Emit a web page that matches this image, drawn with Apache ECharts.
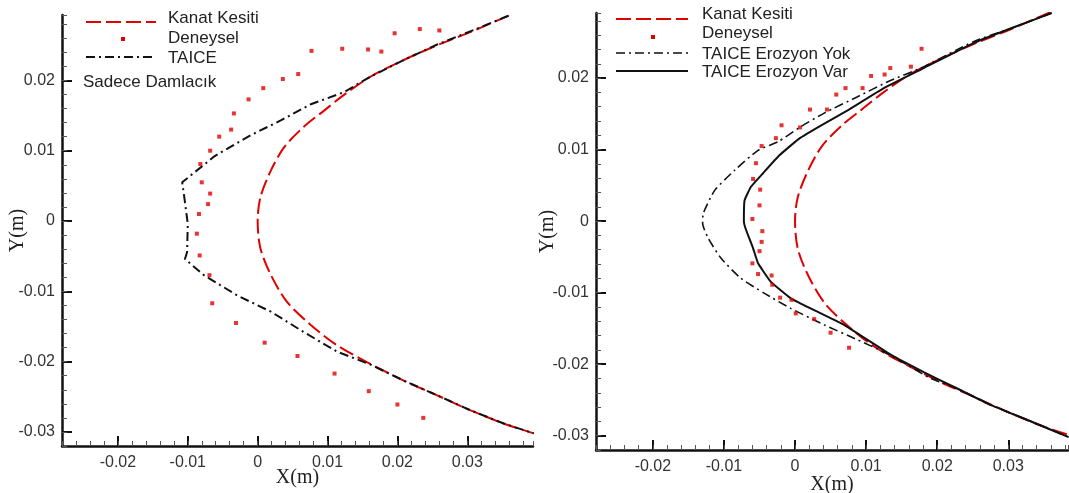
<html>
<head>
<meta charset="UTF-8">
<title>Kanat Kesiti - Buzlanma</title>
<script type="text/javascript" src="https://cdn.jsdelivr.net/npm/echarts@6/dist/echarts.min.js"></script>
<style>
  html, body { margin: 0; padding: 0; background: #fff; }
  #main { width: 1069px; height: 493px; }
</style>
</head>
<body>
<div id="main"></div>
<script type="text/javascript">
// tick labels (m)
var xTicks = [-0.02, -0.01, 0, 0.01, 0.02, 0.03];
var yTicks = [-0.03, -0.02, -0.01, 0, 0.01, 0.02];

// kanat kesiti (airfoil), same for both panels: [x, y]
var kanatKesiti = [
  [0.0359, 0.0292], [0.0305, 0.0269], [0.0257, 0.0250], [0.0209, 0.0229], [0.0161, 0.0205],
  [0.0123, 0.0179], [0.0095, 0.0157], [0.0066, 0.0134], [0.0038, 0.0105], [0.0019, 0.0072],
  [0.0004, 0.0034], [0.0000, 0.0000], [0.0004, -0.0039], [0.0019, -0.0077], [0.0042, -0.0115],
  [0.0076, -0.0148], [0.0114, -0.0177], [0.0157, -0.0201], [0.0209, -0.0227], [0.0257, -0.0248],
  [0.0304, -0.0269], [0.0352, -0.0288], [0.0395, -0.0302]
];

// sol panel - sadece damlacik
var deneyselSol = [
  [0.0196, 0.0267], [0.0232, 0.0273], [0.0260, 0.0271], [0.0077, 0.0242], [0.0121, 0.0245],
  [0.0158, 0.0244], [0.0177, 0.0241], [0.0058, 0.0209], [0.0036, 0.0202], [0.0008, 0.0189],
  [-0.0013, 0.0173], [-0.0034, 0.0153], [-0.0038, 0.0130], [-0.0055, 0.0120], [-0.0068, 0.0100],
  [-0.0082, 0.0081], [-0.0080, 0.0055], [-0.0068, 0.0039], [-0.0071, 0.0024], [-0.0084, 0.0010],
  [-0.0087, -0.0018], [-0.0083, -0.0049], [-0.0069, -0.0077], [-0.0065, -0.0117], [-0.0031, -0.0145],
  [0.0010, -0.0173], [0.0057, -0.0192], [0.0110, -0.0217], [0.0159, -0.0242], [0.0200, -0.0261],
  [0.0237, -0.0280]
];
var taiceSol = [
  [0.0359, 0.0292], [0.0305, 0.0270], [0.0257, 0.0251], [0.0209, 0.0229], [0.0161, 0.0205],
  [0.0123, 0.0183], [0.0076, 0.0166], [0.0033, 0.0143], [-0.0010, 0.0122], [-0.0062, 0.0092],
  [-0.0108, 0.0055], [-0.0105, 0.0034], [-0.0100, -0.0004], [-0.0101, -0.0044], [-0.0104, -0.0054],
  [-0.0077, -0.0077], [-0.0029, -0.0106], [0.0019, -0.0129], [0.0066, -0.0158], [0.0114, -0.0186],
  [0.0161, -0.0204], [0.0209, -0.0227], [0.0257, -0.0248], [0.0304, -0.0269], [0.0352, -0.0288],
  [0.0395, -0.0302]
];

// sag panel - erozyon
var deneyselSag = [
  [0.0178, 0.0241], [0.0163, 0.0216], [0.0134, 0.0214], [0.0126, 0.0205], [0.0107, 0.0203],
  [0.0095, 0.0186], [0.0071, 0.0186], [0.0058, 0.0177], [0.0045, 0.0156], [0.0021, 0.0156],
  [0.0007, 0.0131], [-0.0019, 0.0134], [-0.0027, 0.0116], [-0.0047, 0.0105], [-0.0055, 0.0081],
  [-0.0059, 0.0059], [-0.0049, 0.0044], [-0.0050, 0.0022], [-0.0060, 0.0003], [-0.0046, -0.0014],
  [-0.0047, -0.0029], [-0.0050, -0.0042], [-0.0060, -0.0059], [-0.0052, -0.0074], [-0.0033, -0.0076],
  [-0.0032, -0.0089], [-0.0021, -0.0107], [-0.0005, -0.0110], [0.0001, -0.0129], [0.0027, -0.0137],
  [0.0050, -0.0156], [0.0076, -0.0177]
];
var erozyonYok = [
  [0.0361, 0.0291], [0.0305, 0.0270], [0.0251, 0.0251], [0.0177, 0.0214], [0.0135, 0.0197],
  [0.0088, 0.0174], [0.0041, 0.0151], [0.0008, 0.0132], [-0.0024, 0.0111], [-0.0052, 0.0099],
  [-0.0085, 0.0071], [-0.0113, 0.0043], [-0.0129, 0.0011], [-0.0130, -0.0003], [-0.0122, -0.0024],
  [-0.0104, -0.0052], [-0.0076, -0.0080], [-0.0043, -0.0101], [-0.0006, -0.0122], [0.0041, -0.0145],
  [0.0088, -0.0166], [0.0125, -0.0183], [0.0158, -0.0201], [0.0191, -0.0220], [0.0228, -0.0234],
  [0.0275, -0.0257], [0.0322, -0.0276], [0.0385, -0.0302]
];
var erozyonVar = [
  [0.0361, 0.0291], [0.0305, 0.0270], [0.0251, 0.0249], [0.0181, 0.0214], [0.0125, 0.0186],
  [0.0074, 0.0155], [0.0032, 0.0131], [0.0004, 0.0114], [-0.0022, 0.0092], [-0.0045, 0.0067],
  [-0.0062, 0.0048], [-0.0071, 0.0029], [-0.0072, 0.0000], [-0.0069, -0.0012], [-0.0059, -0.0038],
  [-0.0052, -0.0059], [-0.0034, -0.0085], [-0.0006, -0.0108], [0.0032, -0.0127], [0.0069, -0.0145],
  [0.0102, -0.0166], [0.0135, -0.0187], [0.0181, -0.0211], [0.0228, -0.0234], [0.0275, -0.0257],
  [0.0322, -0.0276], [0.0385, -0.0302]
];

var RED = '#e00000';
var TXT = '#222';
var dashDot = [9, 4, 2, 4];

// ana eksen: cizgi, buyuk tikler, etiketler
function mainAxis(dim, grid, min, max, ticks, name, gap) {
  return {
    type: 'value', gridIndex: grid, min: min, max: max,
    position: dim === 'x' ? 'bottom' : 'left',
    name: name, nameLocation: 'middle', nameGap: gap, nameMoveOverlap: false,
    nameTextStyle: { fontFamily: 'Liberation Serif', fontSize: 20, color: TXT },
    axisLine: { show: true, onZero: false, lineStyle: { color: '#111', width: 2.5 } },
    axisTick: { show: true, inside: true, length: 10, customValues: ticks, lineStyle: { color: '#111', width: 2 } },
    axisLabel: { customValues: ticks, margin: dim === 'x' ? 9 : 7, fontFamily: 'Liberation Sans', fontSize: 16, color: '#333' },
    splitLine: { show: false }
  };
}
// ara tikler (0.002)
function minorAxis(dim, grid, min, max) {
  return {
    type: 'value', gridIndex: grid, min: min, max: max, interval: 0.002,
    position: dim === 'x' ? 'bottom' : 'left',
    axisLine: { show: false, onZero: false },
    axisTick: { show: true, inside: true, length: 5, lineStyle: { color: '#555', width: 1 } },
    axisLabel: { show: false },
    splitLine: { show: false }
  };
}

function lineSeries(name, data, xi, color, width, type, smooth) {
  return {
    name: name, type: 'line', xAxisIndex: xi, yAxisIndex: xi, data: data,
    symbol: 'none', smooth: smooth, z: 3,
    lineStyle: { color: color, width: width, type: type }
  };
}
function dotSeries(name, data, xi) {
  return {
    name: name, type: 'scatter', xAxisIndex: xi, yAxisIndex: xi, data: data,
    symbol: 'rect', symbolSize: 4, itemStyle: { color: RED }, z: 4
  };
}

// legend ornekleri
function legLine(x1, x2, y, color, width, dash) {
  return { type: 'line', shape: { x1: x1, y1: y, x2: x2, y2: y }, style: { stroke: color, lineWidth: width, lineDash: dash } };
}
function legText(x, y, t) {
  return { type: 'text', x: x, y: y, style: { text: t, fill: TXT, font: '17px "Liberation Sans"', verticalAlign: 'middle' } };
}

var myChart = echarts.init(document.getElementById('main'));
var option = {
  animation: false,
  backgroundColor: '#fff',
  grid: [
    { left: 62, top: 15, width: 471, height: 431, containLabel: false, outerBoundsMode: 'none' },
    { left: 596, top: 13, width: 472, height: 437, containLabel: false, outerBoundsMode: 'none' }
  ],
  xAxis: [
    mainAxis('x', 0, -0.028, 0.0394, xTicks, 'X(m)', 22),
    minorAxis('x', 0, -0.028, 0.0394),
    mainAxis('x', 1, -0.028, 0.0384, xTicks, 'X(m)', 25),
    minorAxis('x', 1, -0.028, 0.0384)
  ],
  yAxis: [
    mainAxis('y', 0, -0.032, 0.0293, yTicks, 'Y(m)', 34),
    minorAxis('y', 0, -0.032, 0.0293),
    mainAxis('y', 1, -0.032, 0.0291, yTicks, 'Y(m)', 38),
    minorAxis('y', 1, -0.032, 0.0291)
  ],
  series: [
    lineSeries('Kanat Kesiti', kanatKesiti, 0, RED, 2, [15, 5], 0.3),
    dotSeries('Deneysel', deneyselSol, 0),
    lineSeries('TAICE', taiceSol, 0, '#111', 2, dashDot, false),
    lineSeries('Kanat Kesiti', kanatKesiti, 2, RED, 2, [15, 5], 0.3),
    dotSeries('Deneysel', deneyselSag, 2),
    lineSeries('TAICE Erozyon Yok', erozyonYok, 2, '#111', 1.6, dashDot, 0.2),
    lineSeries('TAICE Erozyon Var', erozyonVar, 2, '#111', 2, 'solid', 0.1)
  ],
  graphic: [
    legLine(86, 156, 22, RED, 2, [15, 5]),
    { type: 'rect', shape: { x: 121, y: 37, width: 4, height: 4 }, style: { fill: RED } },
    legLine(86, 156, 57, '#111', 2, dashDot),
    legText(168, 18, 'Kanat Kesiti'),
    legText(168, 38, 'Deneysel'),
    legText(168, 58, 'TAICE'),
    legText(83, 82, 'Sadece Damlacık'),

    legLine(616, 688, 19, RED, 2, [15, 5]),
    { type: 'rect', shape: { x: 651, y: 35, width: 4, height: 4 }, style: { fill: RED } },
    legLine(616, 688, 53, '#111', 1.6, dashDot),
    legLine(616, 688, 71, '#111', 2, null),
    legText(702, 14, 'Kanat Kesiti'),
    legText(702, 33, 'Deneysel'),
    legText(702, 54, 'TAICE Erozyon Yok'),
    legText(702, 72, 'TAICE Erozyon Var')
  ]
};
myChart.setOption(option);
</script>
</body>
</html>
